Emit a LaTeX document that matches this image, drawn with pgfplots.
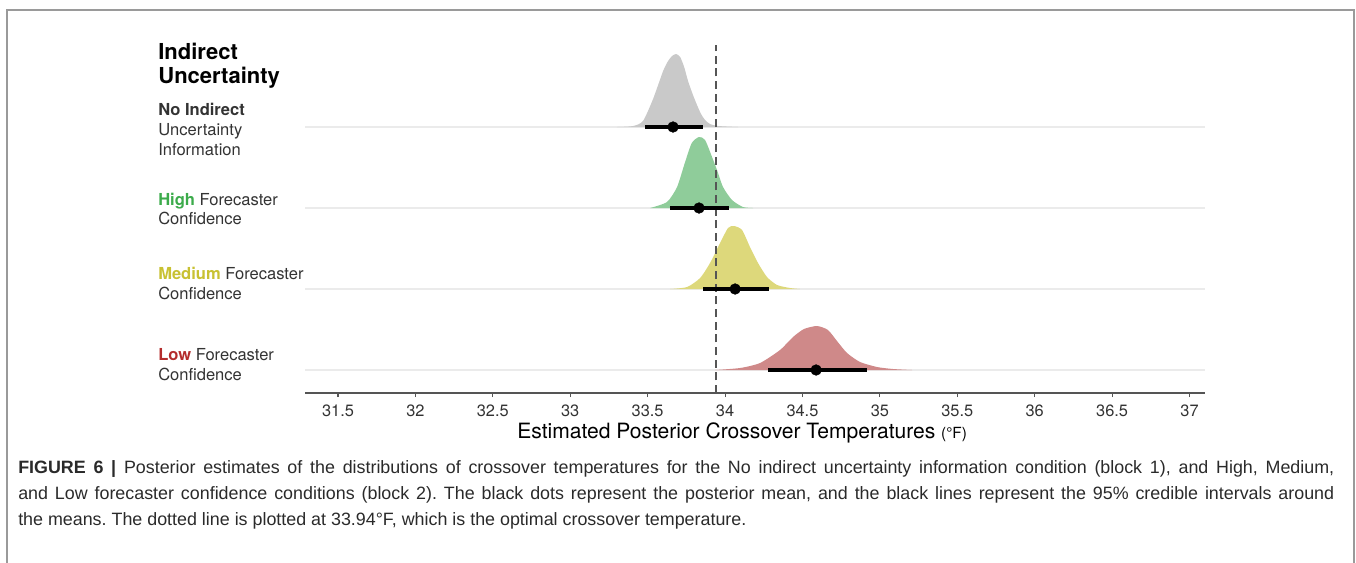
\documentclass[border=0pt]{standalone}
\usepackage{fontspec}
\setmainfont{TeX Gyre Heros}
\newfontfamily\capfont{Liberation Sans}
\usepackage{pgfplots}
\pgfplotsset{compat=1.18}
\definecolor{ridgegray}{HTML}{C9C9C9}
\definecolor{ridgegreen}{HTML}{8FCC9A}
\definecolor{ridgeyellow}{HTML}{DDD87B}
\definecolor{ridgered}{HTML}{CF8989}
\definecolor{labgreen}{HTML}{3CAB4B}
\definecolor{labyellow}{HTML}{C8C132}
\definecolor{labred}{HTML}{B42D2D}
\definecolor{txt}{HTML}{333333}
\definecolor{captxt}{HTML}{2A2A2A}
\definecolor{rowline}{HTML}{EBEBEB}
\definecolor{framegray}{HTML}{9A9A9A}
\definecolor{axisgray}{HTML}{555555}
\frenchspacing

\begin{document}
\begin{tikzpicture}[x=0.75pt,y=-0.75pt]
\useasboundingbox (0,0) rectangle (1356,562);
\draw[framegray, line width=1.1pt] (7,640) -- (7,10) -- (1354,10) -- (1354,640);
\coordinate (origin) at (305,393);

\begin{axis}[
    at={(origin)}, anchor=south west,
    width=675pt, height=261pt, scale only axis,
    xmin=31.287, xmax=37.1, ymin=0, ymax=348,
    axis x line*=bottom, axis y line=none,
    xtick={31.5,32,...,37},
    xtick align=outside, major tick length=3pt,
    axis line style={axisgray, line width=0.8pt},
    x tick style={axisgray, line width=0.8pt},
    x tick label style={font=\fontsize{12.3}{14}\selectfont, text=txt, yshift=-2pt},
    /pgf/number format/assume math mode=true,
    clip=false,
]
% row lines
\addplot[rowline, line width=1.1pt] coordinates {(31.287,266) (37.1,266)};
\addplot[rowline, line width=1.1pt] coordinates {(31.287,185) (37.1,185)};
\addplot[rowline, line width=1.1pt] coordinates {(31.287,104) (37.1,104)};
\addplot[rowline, line width=1.1pt] coordinates {(31.287,23) (37.1,23)};

% densities
\addplot[fill=ridgegray, draw=none, smooth, tension=0.4] coordinates {
(33.302,266) (33.406,267) (33.470,272) (33.535,294) (33.600,322) (33.632,332)
(33.658,337) (33.684,339) (33.710,336) (33.736,326) (33.761,312) (33.793,298)
(33.819,288) (33.845,279) (33.871,273) (33.903,269) (33.955,267) (34.084,266)} -- cycle;

\addplot[fill=ridgegreen, draw=none, smooth, tension=0.4] coordinates {
(33.516,185) (33.625,191) (33.690,206) (33.740,230) (33.785,250) (33.832,256)
(33.871,253) (33.916,236) (33.948,223) (33.987,206) (34.045,193) (34.116,186)
(34.181,185)} -- cycle;

\addplot[fill=ridgeyellow, draw=none, smooth, tension=0.4] coordinates {
(33.645,104) (33.755,106) (33.839,115) (33.903,130) (33.968,150) (34.019,165)
(34.058,167) (34.110,163) (34.161,146) (34.213,130) (34.271,116) (34.336,108)
(34.420,105) (34.484,104)} -- cycle;

\addplot[fill=ridgered, draw=none, smooth, tension=0.4] coordinates {
(33.935,23) (34.097,25) (34.226,30) (34.355,43) (34.439,56) (34.510,64)
(34.594,67) (34.665,63) (34.723,52) (34.788,40) (34.872,31) (34.982,26)
(35.085,24) (35.208,23)} -- cycle;

% optimal crossover temperature
\addplot[axisgray, line width=1.4pt, dash pattern=on 6pt off 3.5pt] coordinates {(33.94,0) (33.94,348)};

% 95% intervals and means
\addplot[black, line width=3pt] coordinates {(33.483,266) (33.858,266)};
\addplot[black, line width=3pt] coordinates {(33.645,185) (34.026,185)};
\addplot[black, line width=3pt] coordinates {(33.858,104) (34.284,104)};
\addplot[black, line width=3pt] coordinates {(34.278,23) (34.917,23)};
\addplot[only marks, mark=*, mark size=4pt, black] coordinates {
(33.664,266) (33.832,185) (34.065,104) (34.588,23)};
\end{axis}

% title and row labels
\node[anchor=base west, align=left, font=\fontsize{16.5}{18}\bfseries\selectfont, inner sep=0pt]
  at (158,59) {Indirect};
\node[anchor=base west, align=left, font=\fontsize{16.5}{18}\bfseries\selectfont, inner sep=0pt]
  at (158,83) {Uncertainty};
\begin{scope}[every node/.style={anchor=base west, align=left, inner sep=0pt,
    font=\fontsize{12.4}{15}\selectfont, text=txt}]
\node at (158,115) {\textbf{No Indirect}};
\node at (158,135) {Uncertainty};
\node at (158,155) {Information};
\node at (158,205) {\textcolor{labgreen}{\textbf{High}} Forecaster};
\node at (158,224) {Confidence};
\node at (158,279) {\textcolor{labyellow}{\textbf{Medium}} Forecaster};
\node at (158,299) {Confidence};
\node at (158,360) {\textcolor{labred}{\textbf{Low}} Forecaster};
\node at (158,380) {Confidence};
\end{scope}

% x axis title
\node[anchor=base west, inner sep=0pt, font=\fontsize{15.8}{18}\selectfont]
  at (517,438) {Estimated Posterior Crossover Temperatures {\fontsize{11.5}{14}\selectfont(°F)}};

% caption
\node[anchor=north west, inner sep=0pt, text width=987pt, align=justify,
      font=\capfont\fontsize{13.4}{19.5}\selectfont, text=captxt]
  at (18,460) {\textbf{FIGURE 6 \textbar}\ Posterior estimates of the distributions of crossover temperatures for the No indirect uncertainty information condition (block 1), and High, Medium,\linebreak
and Low forecaster confidence conditions (block 2). The black dots represent the posterior mean, and the black lines represent the 95\% credible intervals around\linebreak
the means. The dotted line is plotted at 33.94°F, which is the optimal crossover temperature.};
\end{tikzpicture}
\end{document}
